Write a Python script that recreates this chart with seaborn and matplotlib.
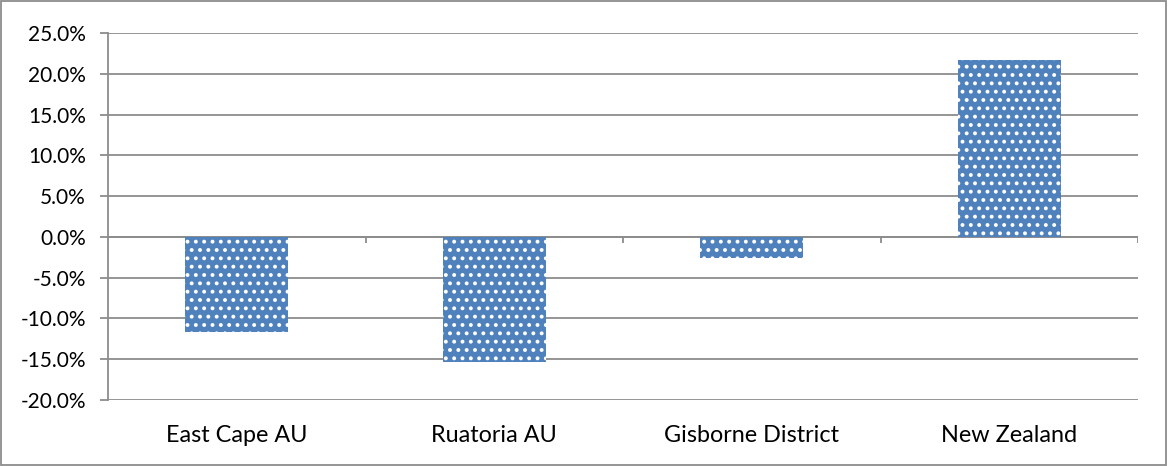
import matplotlib
matplotlib.use("Agg")
import matplotlib.pyplot as plt
import matplotlib.patches as mpatches
import seaborn as sns
import pandas as pd

# Population change by area
areas = ["East Cape AU", "Ruatoria AU", "Gisborne District", "New Zealand"]
change_pct = [-11.7, -15.4, -2.6, 21.7]

y_ticks = [-20, -15, -10, -5, 0, 5, 10, 15, 20, 25]

sns.set_theme(style="white")
plt.rcParams["font.family"] = ["Lato", "DejaVu Sans"]
plt.rcParams["hatch.color"] = "white"
plt.rcParams["hatch.linewidth"] = 1.6

grid_col = "#8c8c8c"
bar_col = "#4f81bd"

fig = plt.figure(figsize=(11.68, 4.66), dpi=100)
ax = fig.add_axes([108 / 1168, 1 - 400 / 466, 1030 / 1168, 367 / 466])

df = pd.DataFrame({"area": areas, "change": change_pct})
sns.barplot(data=df, x="area", y="change", color=bar_col, saturation=1,
            width=0.4, ax=ax, zorder=3)
for p in ax.patches:
    p.set_hatch("..")
    p.set_edgecolor("white")
    p.set_linewidth(0)

ax.set_ylim(-20, 25)
ax.set_xlim(-0.5, len(areas) - 0.5)
ax.set_yticks(y_ticks)
ax.set_yticklabels([f"{v:.1f}%" for v in y_ticks])
ax.yaxis.grid(True, color=grid_col, linewidth=1.3, zorder=0)
ax.set_axisbelow(True)
ax.set_xlabel("")
ax.set_ylabel("")

for side in ["top", "right", "bottom"]:
    ax.spines[side].set_visible(False)
ax.spines["left"].set_color(grid_col)
ax.spines["left"].set_linewidth(1.3)

ax.tick_params(axis="y", length=6, width=1.3, color=grid_col, left=True,
               labelsize=15, pad=10, labelcolor="black")
ax.tick_params(axis="x", length=0, labelsize=16.8, pad=18, labelcolor="black")

# category axis line at zero with boundary ticks
ax.axhline(0, color=grid_col, linewidth=1.3, zorder=2)
bounds = [i + 0.5 for i in range(len(areas))]
ax.vlines(bounds, -0.75, 0, color=grid_col, linewidth=1.3, zorder=2)

# chart area border
fig.patches.append(mpatches.Rectangle((0.001, 0.002), 0.997, 0.995,
                                      transform=fig.transFigure, fill=False,
                                      edgecolor="#8c8c8c", linewidth=1.3))

fig.savefig("out.png", dpi=100)
